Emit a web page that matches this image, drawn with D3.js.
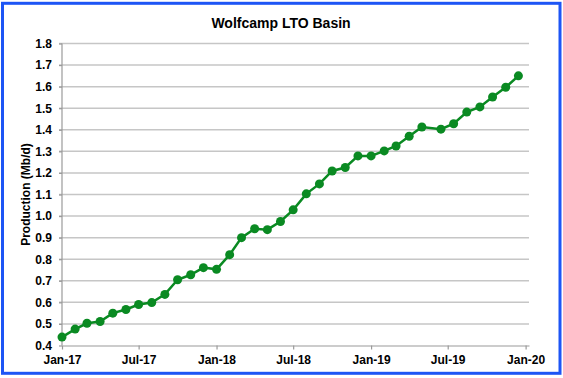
<!DOCTYPE html>
<html>
<head>
<meta charset="utf-8">
<script src="https://cdn.jsdelivr.net/npm/d3@7"></script>
<style>
  body { margin: 0; background: #fff; }
  #chart { width: 563px; height: 378px; }
  text { font-family: "Liberation Sans", Arial, sans-serif; font-weight: bold; fill: #000; }
</style>
</head>
<body>
<div id="chart"></div>
<script>
// data
let title = "Wolfcamp LTO Basin"
let yLabel = "Production (Mb/d)"
let dates = [
  "2017-01-01", "2017-02-01", "2017-03-01", "2017-04-01", "2017-05-01", "2017-06-01",
  "2017-07-01", "2017-08-01", "2017-09-01", "2017-10-01", "2017-11-01", "2017-12-01",
  "2018-01-01", "2018-02-01", "2018-03-01", "2018-04-01", "2018-05-01", "2018-06-01",
  "2018-07-01", "2018-08-01", "2018-09-01", "2018-10-01", "2018-11-01", "2018-12-01",
  "2019-01-01", "2019-02-01", "2019-03-01", "2019-04-01", "2019-05-01", "2019-06-15",
  "2019-07-15", "2019-08-15", "2019-09-15", "2019-10-15", "2019-11-15", "2019-12-15"
]
let production = [
  0.439, 0.476, 0.503, 0.511, 0.550, 0.567, 0.590, 0.599, 0.637, 0.705, 0.728, 0.761,
  0.753, 0.821, 0.900, 0.941, 0.937, 0.975, 1.029, 1.103, 1.149, 1.209, 1.225, 1.279,
  1.279, 1.302, 1.325, 1.370, 1.413, 1.403, 1.428, 1.482, 1.506, 1.552, 1.597, 1.650
]
let yTicks = [0.4, 0.5, 0.6, 0.7, 0.8, 0.9, 1.0, 1.1, 1.2, 1.3, 1.4, 1.5, 1.6, 1.7, 1.8]
let xTicks = ["2017-01-01", "2017-07-01", "2018-01-01", "2018-07-01", "2019-01-01", "2019-07-01", "2020-01-01"]
let xDomain = ["2017-01-01", "2020-01-09"]

let parse = d3.utcParse("%Y-%m-%d")
let data = dates.map((d, i) => ({ date: parse(d), value: production[i] }))

let W = 563, H = 378
let margin = {top: 43.5, right: 34, bottom: 32.5, left: 62}
let width = W - margin.left - margin.right
let height = H - margin.top - margin.bottom

let svg = d3.select("#chart").append("svg")
  .attr("width", W)
  .attr("height", H)

// chart border
svg.append("rect")
  .attr("x", 2.5).attr("y", 3.3)
  .attr("width", 557.5).attr("height", 370)
  .attr("fill", "#fff")
  .attr("stroke", "#1d55f5")
  .attr("stroke-width", 3)

svg.append("text")
  .attr("x", 281).attr("y", 28)
  .attr("text-anchor", "middle")
  .style("font-size", "14px")
  .text(title)

let g = svg.append("g")
  .attr("transform", "translate(" + margin.left + "," + margin.top + ")")

let xScale = d3.scaleUtc()
  .domain(xDomain.map(parse))
  .range([0, width])

let yScale = d3.scaleLinear()
  .domain([0.4, 1.8])
  .range([height, 0])

// gridlines
g.append("g")
  .selectAll("line")
  .data(yTicks.slice(1))
  .join("line")
  .attr("x1", -3).attr("x2", width)
  .attr("y1", d => yScale(d)).attr("y2", d => yScale(d))
  .attr("stroke", "#c6c6c6")
  .attr("stroke-width", 1.5)

let yAxis = d3.axisLeft(yScale)
  .tickValues(yTicks)
  .tickSize(3)
  .tickPadding(7)
  .tickFormat(d3.format(".1f"))

let xAxis = d3.axisBottom(xScale)
  .tickValues(xTicks.map(parse))
  .tickSize(4)
  .tickSizeOuter(0)
  .tickPadding(6)
  .tickFormat(d3.utcFormat("%b-%y"))

let gy = g.append("g").call(yAxis)
gy.select(".domain").attr("d", "M0," + height + "V0")
let gx = g.append("g")
  .attr("transform", "translate(0," + height + ")")
  .call(xAxis)

g.selectAll(".domain, .tick line").attr("stroke", "#9a9a9a").attr("stroke-width", 1.2)
g.selectAll(".tick text")
  .style("font-size", "12px")
  .style("font-family", "'Liberation Sans', Arial, sans-serif")
  .style("font-weight", "bold")
  .attr("fill", "#000")

svg.append("text")
  .attr("transform", "translate(30," + (margin.top + height / 2) + ") rotate(-90)")
  .attr("text-anchor", "middle")
  .style("font-size", "12px")
  .text(yLabel)

// series
let line = d3.line()
  .x(d => xScale(d.date))
  .y(d => yScale(d.value))

g.append("path")
  .datum(data)
  .attr("fill", "none")
  .attr("stroke", "#0a8a22")
  .attr("stroke-width", 2.5)
  .attr("d", line)

g.selectAll(".point")
  .data(data)
  .join("circle")
  .attr("class", "point")
  .attr("cx", d => xScale(d.date))
  .attr("cy", d => yScale(d.value))
  .attr("r", 4.5)
  .attr("fill", "#0a8a22")
</script>
</body>
</html>
